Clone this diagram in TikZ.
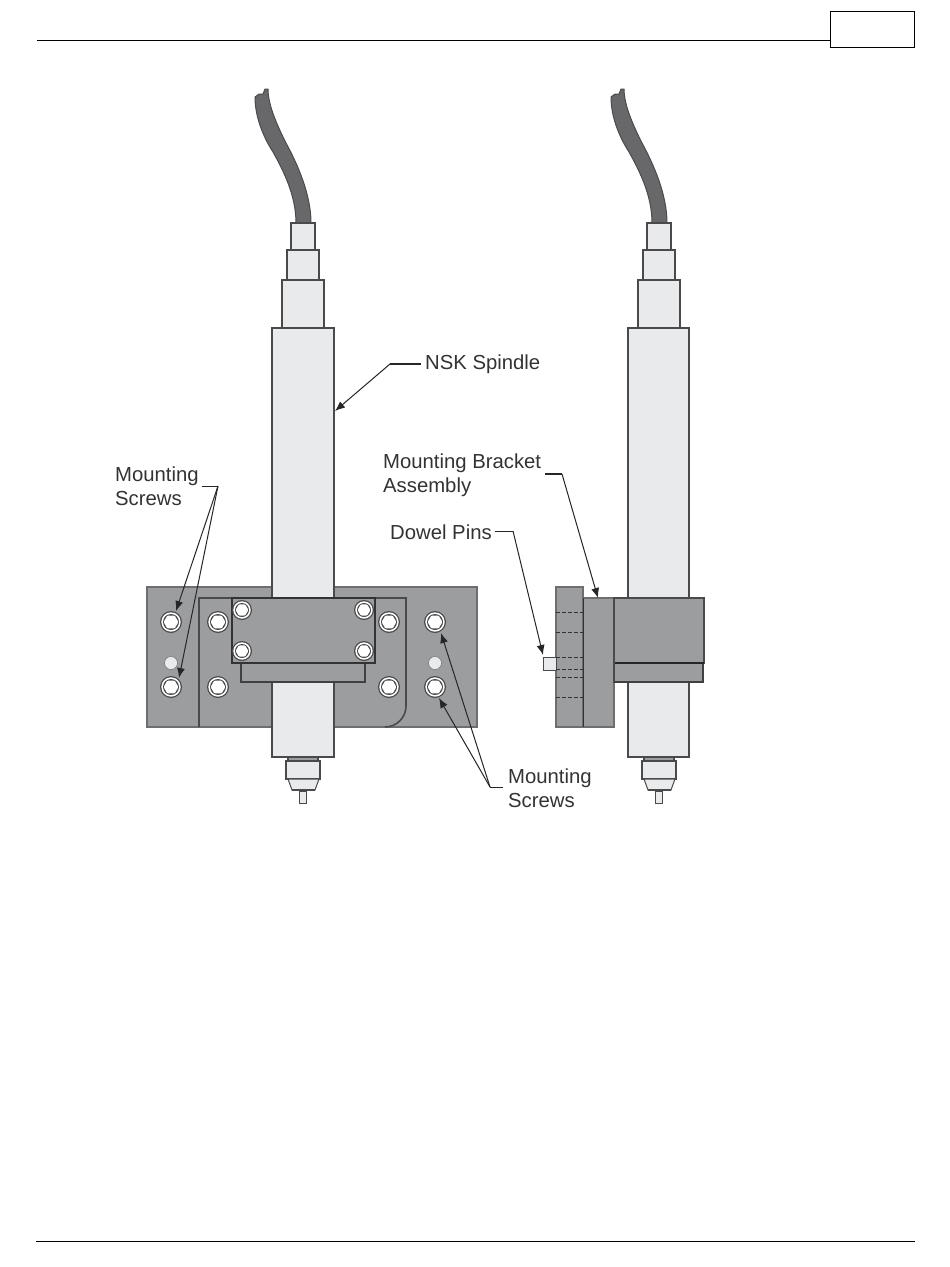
\documentclass[tikz,border=0pt]{standalone}
\usepackage{fontspec}
\setmainfont{Liberation Sans}
\usetikzlibrary{arrows.meta}
\definecolor{plategray}{HTML}{9C9D9F}
\definecolor{plateedge}{HTML}{6E6E70}
\definecolor{edgegray}{HTML}{4A4A4C}
\definecolor{bodylight}{HTML}{E9EAEC}
\definecolor{cablegray}{HTML}{68686A}
\definecolor{labelgray}{HTML}{333335}
\tikzset{
  part/.style={draw=plateedge,line width=1.3pt,fill=plategray},
  darkpart/.style={draw=black!80,line width=1.7pt,fill=plategray},
  body/.style={draw=edgegray,line width=1.3pt,fill=bodylight},
  hidden/.style={draw=black!80,line width=.9pt,dash pattern=on 4pt off 2pt},
  rule/.style={draw=black,line width=1pt},
  lead/.style={draw=black!85,line width=1pt},
  leadarrow/.style={lead,-{Latex[length=10pt,width=8pt]}},
  caption/.style={font=\fontsize{20.3}{24}\selectfont,text=labelgray,inner sep=0pt,align=left,anchor=west},
  pinhole/.style={circle,draw=plateedge,line width=.5pt,fill=bodylight,minimum size=13pt,inner sep=0pt},
}
% bolt head: #1 position, #2 outer radius
\newcommand{\boltat}[2]{%
  \fill[edgegray] (#1) circle (#2);
  \fill[white] (#1) circle (#2-1.3);
  \fill[edgegray] (#1) circle (#2-3);
  \fill[white,shift={(#1)},rounded corners=1pt] plot[samples at={0,60,...,300}] (\x:{#2-3.6}) -- cycle;
}
\newcommand{\tipassembly}[1]{%
  \begin{scope}[xshift=#1]
    \draw[draw=edgegray,line width=1.3pt,fill=plategray] (288,757) rectangle (318,761);
    \draw[body] (286,761) rectangle (320,779);
    \draw[draw=edgegray,line width=1pt,fill=bodylight] (288,779) -- (292,790) -- (315,790) -- (319,779) -- cycle;
    \draw[edgegray,line width=1.6pt] (292,790) -- (315,790);
    \draw[draw=edgegray,line width=1pt,fill=bodylight] (299,791) rectangle (306,803);
  \end{scope}
}
\newcommand{\upperassembly}[1]{%
  \begin{scope}[xshift=#1]
    \fill[cablegray,draw=edgegray,line width=1pt]
      (255,97) .. controls (255,115) and (262,135) .. (273,152)
      .. controls (283,170) and (296,195) .. (296,223)
      -- (311,223)
      .. controls (311,195) and (298,165) .. (286,143)
      .. controls (277,125) and (268,105) .. (268,89)
      -- (265,89) -- (263,94) -- (259,94) -- cycle;
    \draw[body] (291,223) rectangle (315,250);
    \draw[body] (287,250) rectangle (319,280);
    \draw[body] (282,280) rectangle (324,328);
  \end{scope}
}
\begin{document}
\begin{tikzpicture}[x=1pt,y=-1pt]
\useasboundingbox (0,0) rectangle (950,1267);
\fill[white] (0,0) rectangle (950,1267);
% page furniture
\coordinate (headL) at (37,40);
\node[rule,fill=white,minimum width=84pt,minimum height=36pt,inner sep=0pt,anchor=north west] (pagebox) at (830,11) {};
\draw[rule] (headL) -- (headL -| pagebox.west);
\coordinate (footL) at (36,1241);
\coordinate (footR) at (915,1241);
\draw[rule] (footL) -- (footR);

% ---------- front view
\upperassembly{0pt}
\draw[part] (147,587) rectangle (477,727);
\draw[edgegray,line width=1.6pt] (199,727) -- (199,598) -- (406,598) -- (406,706) arc[start angle=0,end angle=90,radius=21];
\draw[body] (272,328) rectangle (334,757);
\draw[part,line width=1.2pt,draw=black!75] (241,663) rectangle (365,682);
\draw[darkpart] (232,598) rectangle (375,663);
\tipassembly{0pt}
\boltat{171,622}{11}
\boltat{171,687}{11}
\boltat{218,622}{11}
\boltat{218,687}{11}
\boltat{242,610}{10}
\boltat{242,651}{10}
\boltat{364,610}{10}
\boltat{364,651}{10}
\boltat{389,622}{11}
\boltat{389,687}{11}
\boltat{435,622}{11}
\boltat{435,687}{11}
\node[pinhole] (pinL) at (171,663) {};
\node[pinhole] (pinR) at (435,663) {};

% ---------- side view
\upperassembly{356pt}
\draw[body] (628,328) rectangle (689,757);
\draw[part] (583,598) rectangle (614,727);
\draw[part] (556,587) rectangle (583,727);
\draw[body,line width=1pt] (543,657) rectangle (556,670);
\foreach \yy in {612,632,657,669,677,697} \draw[hidden] (556,\yy) -- (583,\yy);
\draw[black!80,line width=1pt] (583,598) -- (583,727);
\draw[part,line width=1.2pt,draw=black!75] (614,663) rectangle (703,682);
\draw[part,draw=edgegray] (614,598) rectangle (704,663);
\draw[black!85,line width=1.7pt] (614,663) -- (704,663);
\draw[edgegray,line width=1.8pt] (614,598) -- (614,682);
\tipassembly{356pt}

% ---------- labels and leaders
\node[caption] (nsk) at (425,364) {NSK Spindle};
\node[caption] (bracket) at (383,475) {Mounting Bracket\\Assembly};
\node[caption] (dowel) at (390,532) {Dowel Pins};
\node[caption] (screwsL) at (115,486) {Mounting\\Screws};
\node[caption] (screwsR) at (508,788) {Mounting\\Screws};

\coordinate (nskElbow) at (390,364);
\coordinate (nskTip) at (335,411);
\draw[lead,line width=1.2pt] (nsk.west |- nskElbow) ++(-4,0) -- (nskElbow);
\draw[leadarrow] (nskElbow) -- (nskTip);

\coordinate (brElbow) at (562,474);
\coordinate (brTip) at (598,598);
\draw[lead,line width=1.2pt] (545,474) -- (brElbow);
\draw[leadarrow] (brElbow) -- (brTip);

\coordinate (dwElbow) at (513,531);
\coordinate (dwTip) at (543,655);
\draw[lead] (dowel.east |- dwElbow) ++(3,0) -- (dwElbow);
\draw[leadarrow] (dwElbow) -- (dwTip);

\coordinate (slElbow) at (218,486);
\coordinate (slTipA) at (176,611);
\coordinate (slTipB) at (179,678);
\draw[lead] (202,486) -- (slElbow);
\draw[leadarrow] (slElbow) -- (slTipA);
\draw[leadarrow] (slElbow) -- (slTipB);

\coordinate (srElbow) at (490,787);
\coordinate (srTipA) at (441,633);
\coordinate (srTipB) at (439,698);
\draw[lead] (503,787) -- (srElbow);
\draw[leadarrow] (srElbow) -- (srTipA);
\draw[leadarrow] (srElbow) -- (srTipB);
\end{tikzpicture}
\end{document}
